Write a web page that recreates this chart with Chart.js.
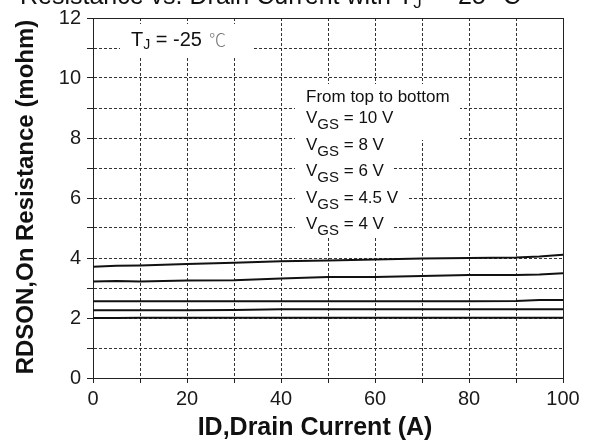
<!DOCTYPE html>
<html>
<head>
<meta charset="utf-8">
<script src="https://cdn.jsdelivr.net/npm/chart.js@4/dist/chart.umd.min.js"></script>
<style>
  html, body { margin: 0; padding: 0; background: #fff; }
  #wrap { width: 590px; height: 444px; }
</style>
</head>
<body>
<div id="wrap"><canvas id="c" width="590" height="444"></canvas></div>
<script>
// Drain current sample points (A)
const currentA = [0, 5, 10, 20, 30, 40, 50, 60, 70, 80, 90, 95, 100];
// On-resistance (mohm), one array per gate drive, top curve first
const rdsVgs10 = [3.71, 3.74, 3.75, 3.80, 3.84, 3.89, 3.92, 3.95, 3.98, 4.00, 4.02, 4.05, 4.11];
const rdsVgs8  = [3.22, 3.23, 3.22, 3.25, 3.26, 3.32, 3.37, 3.37, 3.40, 3.43, 3.43, 3.45, 3.49];
const rdsVgs6  = [2.56, 2.56, 2.56, 2.56, 2.56, 2.56, 2.56, 2.56, 2.56, 2.56, 2.57, 2.60, 2.60];
const rdsVgs45 = [2.26, 2.26, 2.26, 2.26, 2.27, 2.29, 2.29, 2.29, 2.29, 2.29, 2.29, 2.29, 2.29];
const rdsVgs4  = [2.00, 2.00, 2.01, 2.01, 2.01, 2.01, 2.01, 2.01, 2.01, 2.01, 2.01, 2.01, 2.01];
const seriesLabels = ['VGS = 10 V', 'VGS = 8 V', 'VGS = 6 V', 'VGS = 4.5 V', 'VGS = 4 V'];
const xTickLabels = [0, 20, 40, 60, 80, 100];
const yTickLabels = [0, 2, 4, 6, 8, 10, 12];

const FONT = "'Liberation Sans', Arial, sans-serif";
const INK = '#111';

const seriesValues = [rdsVgs10, rdsVgs8, rdsVgs6, rdsVgs45, rdsVgs4];
const datasets = seriesValues.map((vals, i) => ({
  label: seriesLabels[i],
  data: currentA.map((x, j) => ({ x: x, y: vals[j] })),
  borderColor: INK,
  borderWidth: 2,
  pointRadius: 0,
  tension: 0,
  fill: false
}));

// text with a subscript part: main + sub + rest
function subText(ctx, x, y, main, sub, rest, size, subSize, subDrop, color) {
  ctx.fillStyle = color || INK;
  ctx.textBaseline = 'alphabetic';
  ctx.textAlign = 'left';
  ctx.font = size + 'px ' + FONT;
  ctx.fillText(main, x, y);
  x += ctx.measureText(main).width;
  ctx.font = subSize + 'px ' + FONT;
  ctx.fillText(sub, x, y + subDrop);
  x += ctx.measureText(sub).width;
  ctx.font = size + 'px ' + FONT;
  ctx.fillText(rest, x, y);
  return x + ctx.measureText(rest).width;
}

const decorations = {
  id: 'decorations',
  beforeDatasetsDraw(chart) {
    const ctx = chart.ctx;
    ctx.save();
    // cleared panels behind the notes
    ctx.fillStyle = '#fff';
    ctx.fillRect(120, 24, 132, 34);
    ctx.fillRect(295, 84, 165, 56);
    ctx.fillRect(295, 140, 98, 44);
    ctx.fillRect(295, 184, 112, 26);
    ctx.fillRect(295, 210, 98, 28);

    // junction temperature note
    const endX = subText(ctx, 131, 46, 'T', 'J', ' = -25', 20, 14, 3);
    ctx.font = "300 17px 'Noto Sans CJK SC', sans-serif";
    ctx.fillStyle = '#777';
    ctx.fillText('\u2103', endX + 7, 46);

    // gate voltage notes
    ctx.font = '17px ' + FONT;
    ctx.fillStyle = INK;
    ctx.fillText('From top to bottom', 306, 102);
    const rowsY = [123, 149.5, 176, 203, 229];
    seriesLabels.forEach((lab, i) => {
      const rest = ' ' + lab.replace(/^VGS\s*/, '');
      subText(ctx, 306, rowsY[i], 'V', 'GS', rest, 17, 15, 6);
    });
    ctx.restore();
  },
  afterDraw(chart) {
    const ctx = chart.ctx;
    const a = chart.chartArea;
    ctx.save();
    // top and right frame edges
    ctx.strokeStyle = '#222';
    ctx.lineWidth = 1;
    ctx.beginPath();
    ctx.moveTo(Math.round(a.left) + 0.5, Math.round(a.top) + 0.5);
    ctx.lineTo(Math.round(a.right) + 0.5, Math.round(a.top) + 0.5);
    ctx.lineTo(Math.round(a.right) + 0.5, Math.round(a.bottom) + 0.5);
    ctx.stroke();

    // axis titles
    ctx.fillStyle = INK;
    ctx.textAlign = 'center';
    ctx.textBaseline = 'middle';
    ctx.font = 'bold 25px ' + FONT;
    ctx.fillText('ID,Drain Current (A)', 315, 428);
    ctx.save();
    ctx.translate(26, 197);
    ctx.rotate(-Math.PI / 2);
    ctx.font = 'bold 24px ' + FONT;
    ctx.fillText('RDSON,On Resistance (mohm)', 0, 0);
    ctx.restore();

    // heading running off the top edge
    ctx.textAlign = 'left';
    ctx.textBaseline = 'alphabetic';
    ctx.font = '25px ' + FONT;
    ctx.fillText('Resistance vs. Drain Current with T', 20, 4);
    const w = ctx.measureText('Resistance vs. Drain Current with T').width;
    ctx.font = '17px ' + FONT;
    ctx.fillText('J', 20 + w, 8);
    ctx.font = '25px ' + FONT;
    ctx.fillText(' = -25 \u00B0C', 20 + w + 8, 4);
    ctx.restore();
  }
};

const gridDash = { display: true, color: '#222', width: 1, dash: [3, 2] };

new Chart(document.getElementById('c'), {
  type: 'line',
  data: { datasets: datasets },
  options: {
    responsive: false,
    animation: false,
    devicePixelRatio: 1,
    layout: { padding: { left: 0, right: 27, top: 15, bottom: 0 } },
    plugins: { legend: { display: false }, tooltip: { enabled: false } },
    scales: {
      x: {
        type: 'linear',
        min: 0, max: 100,
        afterFit(s) { s.height = 66; },
        border: gridDash,
        grid: { color: '#333', lineWidth: 1, tickLength: 5, tickColor: '#222' },
        ticks: {
          stepSize: 10,
          autoSkip: false,
          maxRotation: 0,
          padding: 4,
          color: '#1a1a1a',
          font: { family: FONT, size: 20 },
          callback: v => (xTickLabels.includes(v) ? String(v) : '')
        }
      },
      y: {
        min: 0, max: 12,
        afterFit(s) { s.width = 93; },
        border: gridDash,
        grid: { color: '#333', lineWidth: 1, tickLength: 6, tickColor: '#222' },
        ticks: {
          stepSize: 1,
          autoSkip: false,
          padding: 6,
          color: '#1a1a1a',
          font: { family: FONT, size: 20 },
          callback: v => (yTickLabels.includes(v) ? String(v) : '')
        }
      }
    }
  },
  plugins: [decorations]
});
</script>
</body>
</html>
